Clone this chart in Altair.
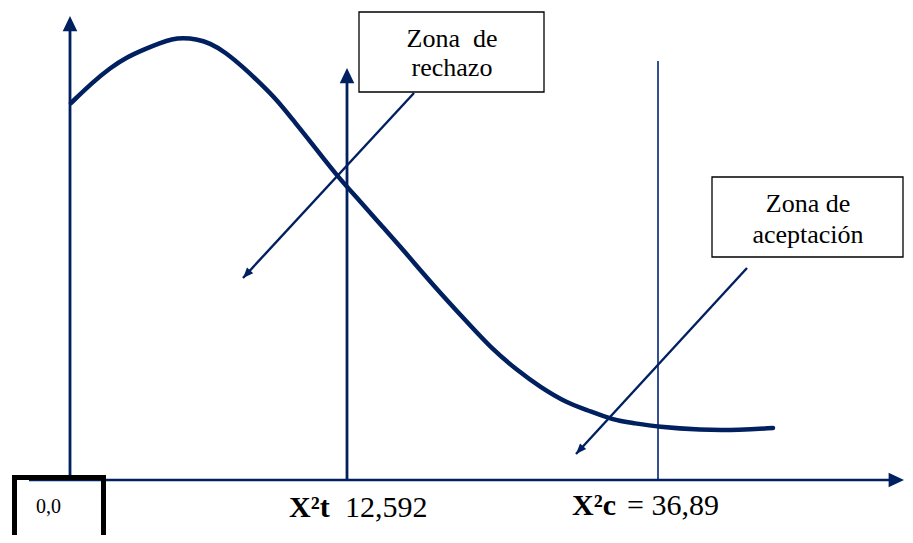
import math
import altair as alt
import pandas as pd

# ---- data (abstract diagram units: x to the right of the origin, y above the horizontal axis)
curve_x = [1, 23, 40, 57, 75, 90, 102, 113, 126, 140, 155, 173, 190, 207, 223, 240,
           267, 290, 310, 335, 363, 397, 423, 447, 470, 497, 517, 543, 563, 588, 630, 670, 703]
curve_y = [377, 398, 412, 423, 431, 437, 441, 442, 441, 437, 428, 413, 397, 380, 360, 339,
           304, 279, 256, 228, 195, 158, 130, 110, 93, 77, 70, 60, 57, 53, 50, 50, 52]

x_t = 277          # X2 tabla position
x_c = 588          # X2 calculado position
y_axis_top = 464
x_axis_end = 834
t_line_top = 412
c_line_top = 419

label_t_bold, label_t_num = "X\u00b2t", "12,592"
label_c_bold, label_c_num = "X\u00b2c", "= 36,89"
origin_label = "0,0"
box_rech_lines = ["Zona\u00a0 de", "rechazo"]
box_acep_lines = ["Zona de", "aceptación"]

# pointer arrows (start at box, end at tip)
ptr_start_x = [344, 677]
ptr_start_y = [387, 212]
ptr_end_x = [173, 506]
ptr_end_y = [202, 26]

# boxes
box_x = [289, 642]
box_x2 = [474, 833]
box_y = [388, 223]
box_y2 = [468, 303]

NAVY = "#002060"
SERIF = "Liberation Serif, Times New Roman, Tinos, DejaVu Serif, serif"

W, H = 897, 527
xs = alt.Scale(domain=[-62, -62 + W], nice=False, zero=False)
ys = alt.Scale(domain=[472 - H, 472], nice=False, zero=False)


def X(f="x"):
    return alt.X(f"{f}:Q", scale=xs, axis=None)


def Y(f="y"):
    return alt.Y(f"{f}:Q", scale=ys, axis=None)


# curve
curve_df = pd.DataFrame({"x": curve_x, "y": curve_y})
curve = alt.Chart(curve_df).mark_line(
    interpolate="basis", color=NAVY, strokeWidth=4.5, strokeCap="round"
).encode(x=X(), y=Y())

# axes and vertical lines
vert_df = pd.DataFrame({
    "x": [0, x_t],
    "y": [5, 0],
    "y2": [y_axis_top - 10, t_line_top - 8],
})
verts = alt.Chart(vert_df).mark_rule(color=NAVY, strokeWidth=2.8).encode(
    x=X(), y=Y(), y2=alt.Y2("y2:Q"))

c_df = pd.DataFrame({"x": [x_c], "y": [0], "y2": [c_line_top]})
c_line = alt.Chart(c_df).mark_rule(color="#1f3c88", strokeWidth=1.8).encode(
    x=X(), y=Y(), y2=alt.Y2("y2:Q"))

xaxis_df = pd.DataFrame({"x": [-41], "x2": [x_axis_end - 8], "y": [0]})
xaxis = alt.Chart(xaxis_df).mark_rule(color=NAVY, strokeWidth=2.6).encode(
    x=X(), x2=alt.X2("x2:Q"), y=Y())

# big arrowheads (axes and X2t line)
big_df = pd.DataFrame({
    "x": [0, x_t, x_axis_end],
    "y": [y_axis_top, t_line_top, 0],
    "angle": [0, 0, 90],
})
big_heads = alt.Chart(big_df).mark_point(
    shape="M0,0L-0.95,2L0.95,2Z", filled=True, fill=NAVY, strokeWidth=0,
    size=236, opacity=1
).encode(x=X(), y=Y(), angle=alt.Angle("angle:Q", scale=None))

# pointer arrows
ptr_df = pd.DataFrame({"x": ptr_start_x, "y": ptr_start_y, "x2": ptr_end_x, "y2": ptr_end_y})
ptr_df["angle"] = [
    (math.degrees(math.atan2(ex - sx, ey - sy)) + 360) % 360
    for sx, sy, ex, ey in zip(ptr_start_x, ptr_start_y, ptr_end_x, ptr_end_y)
]
ptr_lines = alt.Chart(ptr_df).mark_rule(color=NAVY, strokeWidth=2.4).encode(
    x=X(), y=Y(), x2=alt.X2("x2:Q"), y2=alt.Y2("y2:Q"))
ptr_heads = alt.Chart(ptr_df).mark_point(
    shape="M0,0L-0.8,2L0.8,2Z", filled=True, fill=NAVY, strokeWidth=0,
    size=110, opacity=1
).encode(x=X("x2"), y=Y("y2"), angle=alt.Angle("angle:Q", scale=None))

# text boxes
box_df = pd.DataFrame({"x": box_x, "x2": box_x2, "y": box_y, "y2": box_y2})
boxes = alt.Chart(box_df).mark_rect(fill="white", stroke="black", strokeWidth=1.3).encode(
    x=X(), x2=alt.X2("x2:Q"), y=Y(), y2=alt.Y2("y2:Q"))

box_text_df = pd.DataFrame({
    "x": [382, 382, 738, 738],
    "y": [433, 404, 268, 237],
    "text": box_rech_lines + box_acep_lines,
})
box_text = alt.Chart(box_text_df).mark_text(
    font=SERIF, fontSize=26, color="black", align="center",
    baseline="alphabetic"
).encode(x=X(), y=Y(), text=alt.Text("text:N"))

# origin box
origin_df = pd.DataFrame({"x": [-55.5], "x2": [33.5], "y": [2.5], "y2": [-90]})
origin_box = alt.Chart(origin_df).mark_rect(
    fill="white", fillOpacity=0, stroke="black", strokeWidth=5).encode(
    x=X(), x2=alt.X2("x2:Q"), y=Y(), y2=alt.Y2("y2:Q"))
origin_txt = alt.Chart(pd.DataFrame({"x": [-34], "y": [-33], "text": [origin_label]})).mark_text(
    font=SERIF, fontSize=20, color="black", align="left", baseline="alphabetic"
).encode(x=X(), y=Y(), text=alt.Text("text:N"))

# critical value labels
bold_df = pd.DataFrame({"x": [219, 502], "y": [-37, -35], "text": [label_t_bold, label_c_bold]})
bold_txt = alt.Chart(bold_df).mark_text(
    font=SERIF, fontSize=30, fontWeight="bold", color="black",
    align="left", baseline="alphabetic"
).encode(x=X(), y=Y(), text=alt.Text("text:N"))
num_df = pd.DataFrame({"x": [275, 557], "y": [-37, -35], "text": [label_t_num, label_c_num]})
num_txt = alt.Chart(num_df).mark_text(
    font=SERIF, fontSize=30, color="black", align="left", baseline="alphabetic"
).encode(x=X(), y=Y(), text=alt.Text("text:N"))

chart = alt.layer(
    c_line, verts, xaxis, curve, ptr_lines, ptr_heads, big_heads,
    boxes, box_text, origin_box, origin_txt, bold_txt, num_txt
).properties(
    width=W, height=H, padding=0,
    autosize=alt.AutoSizeParams(type="none"),
    background="white",
).configure_view(strokeWidth=0)

chart.save("out.html", embed_options={"renderer": "svg", "actions": False})
